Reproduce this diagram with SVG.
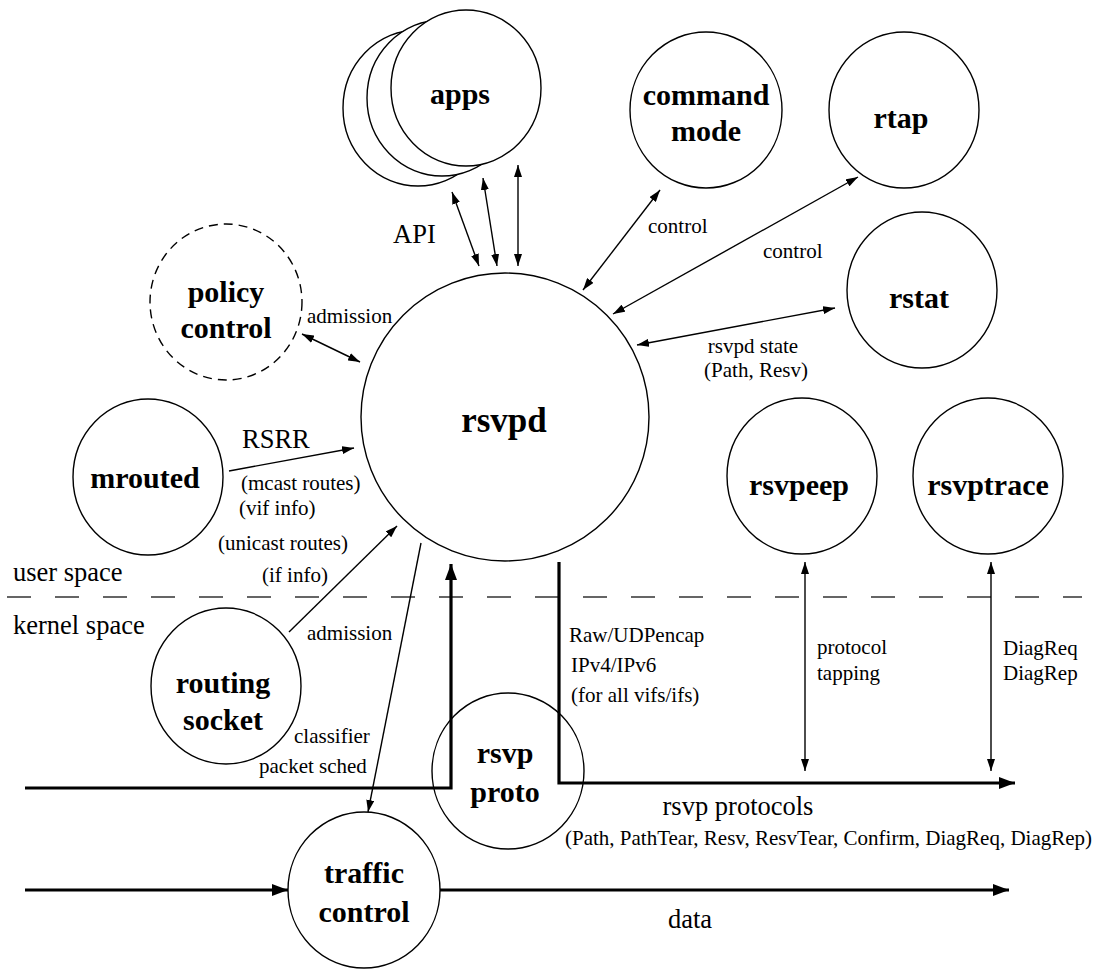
<svg xmlns="http://www.w3.org/2000/svg" width="1109" height="969" viewBox="0 0 1109 969">
<style>
.n{fill:none;stroke:#000;stroke-width:1.4}
.w{fill:#fff;stroke:#000;stroke-width:1.4}
.nt{font-family:"Liberation Serif","Times New Roman",serif;font-weight:bold;font-size:30px;text-anchor:middle;fill:#000}
.s{font-family:"Liberation Serif","Times New Roman",serif;font-size:21px;fill:#000}
.m{font-family:"Liberation Serif","Times New Roman",serif;font-size:26.5px;fill:#000}
.c{text-anchor:middle}
.e{fill:none;stroke:#000;stroke-width:1.4}
.t{fill:none;stroke:#000;stroke-width:3.2}
</style>
<defs>
<marker id="ah" viewBox="0 0 12 8" refX="12" refY="4" markerWidth="12" markerHeight="8" markerUnits="userSpaceOnUse" orient="auto-start-reverse">
<path d="M0,0 L12,4 L0,8 Z" fill="#000"/>
</marker>
<marker id="th" viewBox="0 0 16 12" refX="16" refY="6" markerWidth="16" markerHeight="12" markerUnits="userSpaceOnUse" orient="auto">
<path d="M0,0 L16,6 L0,12 Z" fill="#000"/>
</marker>
</defs>

<g id="layers">
<line x1="7" y1="597" x2="1082" y2="597" stroke="#333" stroke-width="1.5" stroke-dasharray="24 24"/>
<text class="m" x="13" y="581">user space</text>
<text class="m" x="13" y="634">kernel space</text>
</g>

<g id="connectors">
<line class="e" x1="452" y1="192" x2="479" y2="266" marker-start="url(#ah)" marker-end="url(#ah)"/>
<line class="e" x1="483" y1="178" x2="497" y2="266" marker-start="url(#ah)" marker-end="url(#ah)"/>
<line class="e" x1="518" y1="165" x2="518" y2="266" marker-start="url(#ah)" marker-end="url(#ah)"/>
<text class="m" x="393" y="243">API</text>
<line class="e" x1="302" y1="334" x2="360" y2="362" marker-start="url(#ah)" marker-end="url(#ah)"/>
<text class="s" x="307" y="323">admission</text>
<line class="e" x1="660" y1="190" x2="583" y2="290" marker-start="url(#ah)" marker-end="url(#ah)"/>
<text class="s" x="648" y="233">control</text>
<line class="e" x1="858" y1="177" x2="613" y2="314" marker-start="url(#ah)" marker-end="url(#ah)"/>
<text class="s" x="763" y="258">control</text>
<line class="e" x1="835" y1="308" x2="637" y2="345" marker-start="url(#ah)" marker-end="url(#ah)"/>
<text class="s c" x="753" y="353">rsvpd state</text>
<text class="s c" x="756" y="377">(Path, Resv)</text>
<line class="e" x1="229" y1="471" x2="354" y2="448" marker-end="url(#ah)"/>
<text class="m" x="242" y="448">RSRR</text>
<text class="s" x="241" y="490">(mcast routes)</text>
<text class="s" x="239" y="515">(vif info)</text>
<text class="s" x="218" y="550">(unicast routes)</text>
<text class="s" x="262" y="582">(if info)</text>
<line class="e" x1="289" y1="632" x2="397" y2="526" marker-end="url(#ah)"/>
<text class="s" x="307" y="640">admission</text>
<line class="e" x1="421" y1="543" x2="368" y2="812" marker-end="url(#ah)"/>
<text class="s" x="294" y="743">classifier</text>
<text class="s" x="259" y="773">packet sched</text>
<polyline class="t" points="25,788 451,788 451,564" marker-end="url(#th)"/>
<polyline class="t" points="559,562 559,783 1015,783" marker-end="url(#th)"/>
<text class="s" x="569" y="642">Raw/UDPencap</text>
<text class="s" x="571" y="672">IPv4/IPv6</text>
<text class="s" x="571" y="702">(for all vifs/ifs)</text>
<text class="m c" x="738" y="815">rsvp protocols</text>
<text class="s" x="565" y="845">(Path, PathTear, Resv, ResvTear, Confirm, DiagReq, DiagRep)</text>
<line class="e" x1="805" y1="562" x2="805" y2="771" marker-start="url(#ah)" marker-end="url(#ah)"/>
<text class="s" x="817" y="654">protocol</text>
<text class="s" x="817" y="680">tapping</text>
<line class="e" x1="991" y1="562" x2="991" y2="771" marker-start="url(#ah)" marker-end="url(#ah)"/>
<text class="s" x="1003" y="655">DiagReq</text>
<text class="s" x="1003" y="680">DiagRep</text>
<line class="t" x1="25" y1="890" x2="288" y2="890" marker-end="url(#th)"/>
<line class="t" x1="440" y1="890" x2="1009" y2="890" marker-end="url(#th)"/>
<text class="m" x="668" y="928">data</text>
</g>

<g id="apps">
<ellipse class="w" cx="418" cy="108" rx="75" ry="78"/>
<ellipse class="w" cx="442" cy="98" rx="75" ry="78"/>
<ellipse class="w" cx="466" cy="88" rx="75" ry="78"/>
<text class="nt" x="460" y="104">apps</text>
</g>
<g id="command-mode">
<ellipse class="n" cx="706" cy="110" rx="76" ry="78"/>
<text class="nt" x="706" y="105">command</text>
<text class="nt" x="706" y="141">mode</text>
</g>
<g id="rtap">
<ellipse class="n" cx="904" cy="110" rx="75" ry="78"/>
<text class="nt" x="901" y="128">rtap</text>
</g>
<g id="rstat">
<ellipse class="n" cx="922" cy="290" rx="75" ry="78"/>
<text class="nt" x="919" y="308">rstat</text>
</g>
<g id="policy-control">
<ellipse cx="226" cy="302" rx="76" ry="78" fill="none" stroke="#000" stroke-width="1.4" stroke-dasharray="9 6"/>
<text class="nt" x="226" y="302">policy</text>
<text class="nt" x="226" y="338">control</text>
</g>
<g id="rsvpd">
<ellipse class="n" cx="505" cy="417" rx="144" ry="144"/>
<text class="nt" x="504" y="432" style="font-size:35px">rsvpd</text>
</g>
<g id="mrouted">
<ellipse class="n" cx="148" cy="477" rx="75" ry="78"/>
<text class="nt" x="145" y="488">mrouted</text>
</g>
<g id="rsvpeep">
<ellipse class="n" cx="802" cy="476" rx="75" ry="78"/>
<text class="nt" x="799" y="495">rsvpeep</text>
</g>
<g id="rsvptrace">
<ellipse class="n" cx="988" cy="476" rx="75" ry="78"/>
<text class="nt" x="988" y="495">rsvptrace</text>
</g>
<g id="routing-socket">
<ellipse class="n" cx="226" cy="686" rx="75" ry="78"/>
<text class="nt" x="223" y="693">routing</text>
<text class="nt" x="223" y="730">socket</text>
</g>
<g id="rsvp-proto">
<ellipse class="n" cx="508" cy="771" rx="76" ry="78"/>
<text class="nt" x="505" y="763">rsvp</text>
<text class="nt" x="505" y="802">proto</text>
</g>
<g id="traffic-control">
<ellipse class="n" cx="364" cy="890" rx="76" ry="78"/>
<text class="nt" x="364" y="883">traffic</text>
<text class="nt" x="364" y="922">control</text>
</g>
</svg>
